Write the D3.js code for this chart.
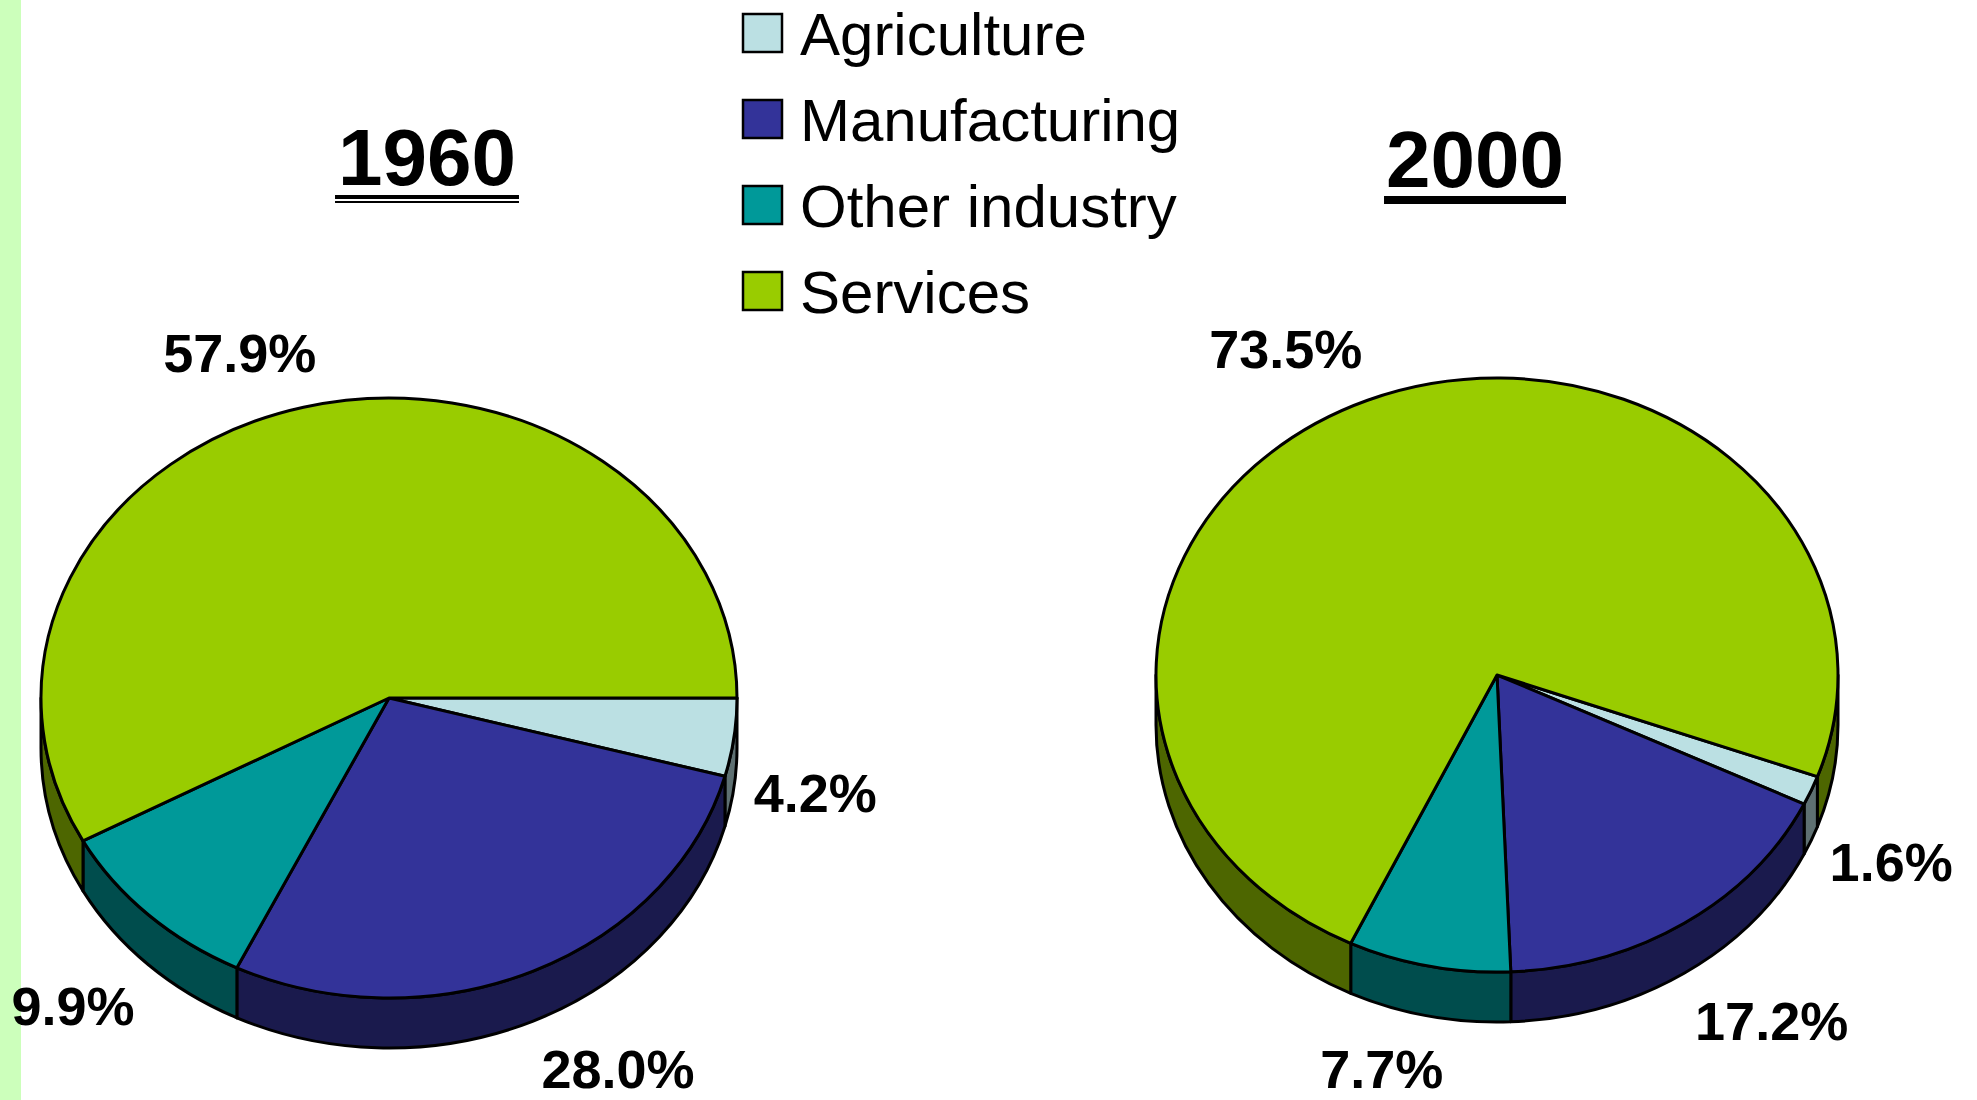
<!DOCTYPE html>
<html>
<head>
<meta charset="utf-8">
<script src="https://cdn.jsdelivr.net/npm/d3@7.9.0/dist/d3.min.js"></script>
<style>
  html, body { margin: 0; padding: 0; background: #fff; }
  svg { display: block; font-family: 'Liberation Sans', Arial, sans-serif; }
</style>
</head>
<body>
<svg id="chart" width="1977" height="1100"></svg>
<script>
// ---- data ----
const categories = ['Agriculture', 'Manufacturing', 'Other industry', 'Services'];
const years = ['1960', '2000'];
const shares1960 = [4.2, 28.0, 9.9, 57.9];
const shares2000 = [1.6, 17.2, 7.7, 73.5];
const firstSliceAngle = [0, 20]; // degrees, clockwise from 3 o'clock

const topColors = ['#BBE0E3', '#333399', '#009999', '#99CC00'];
const sideColors = ['#5E7072', '#1A1A4D', '#004D4D', '#4D6600'];

// ---- layout ----
const W = 1977, H = 1100;
const pies = [
  { year: years[0], values: shares1960, start: firstSliceAngle[0], cx: 389, cy: 698, rx: 348, ry: 300, depth: 50, tx: 427, ty: 185, dbl: true },
  { year: years[1], values: shares2000, start: firstSliceAngle[1], cx: 1497, cy: 675, rx: 341, ry: 297, depth: 50, tx: 1475, ty: 187, dbl: false },
];

const svg = d3.select('#chart');
const topColor = d3.scaleOrdinal(categories, topColors);
const sideColor = d3.scaleOrdinal(categories, sideColors);

// left green strip
svg.append('rect').attr('x', 0).attr('y', 0).attr('width', 21).attr('height', H).attr('fill', '#CCFFBB');

const STROKE = 3;
const LABEL_SIZE = 54;

pies.forEach((p) => {
  const s0 = (p.start * Math.PI) / 180;
  // d3.pie angles: 0 at 12 o'clock; our theta: 0 at 3 o'clock
  const pie = d3.pie().sort(null).value((d) => d.v)
    .startAngle(s0 + Math.PI / 2).endAngle(s0 + Math.PI / 2 + 2 * Math.PI);
  const arcs = pie(categories.map((c, i) => ({ c, v: p.values[i] })));
  arcs.forEach((a) => {
    a.t0 = a.startAngle - Math.PI / 2;
    a.t1 = a.endAngle - Math.PI / 2;
  });

  const pt = (t, dy = 0) => [p.cx + p.rx * Math.cos(t), p.cy + dy + p.ry * Math.sin(t)];

  const g = svg.append('g');

  // side walls (only front half visible: theta in [0, pi] mod 2pi)
  const walls = [];
  arcs.forEach((a) => {
    [[0, Math.PI], [2 * Math.PI, 3 * Math.PI]].forEach(([lo, hi]) => {
      const u0 = Math.max(a.t0, lo), u1 = Math.min(a.t1, hi);
      if (u1 - u0 > 1e-6) walls.push({ c: a.data.c, u0, u1 });
    });
  });

  g.selectAll('path.wall').data(walls).join('path')
    .attr('class', 'wall')
    .attr('d', (w) => {
      const a0 = pt(w.u0), a1 = pt(w.u1);
      const b1 = pt(w.u1, p.depth), b0 = pt(w.u0, p.depth);
      return `M${a0}A${p.rx},${p.ry} 0 0 1 ${a1}L${b1}A${p.rx},${p.ry} 0 0 0 ${b0}Z`;
    })
    .attr('fill', (w) => sideColor(w.c))
    .attr('stroke', '#000')
    .attr('stroke-width', STROKE)
    .attr('stroke-linejoin', 'round');

  // top faces
  g.selectAll('path.top').data(arcs).join('path')
    .attr('class', 'top')
    .attr('d', (a) => {
      const p0 = pt(a.t0), p1 = pt(a.t1);
      const large = a.t1 - a.t0 > Math.PI ? 1 : 0;
      return `M${p.cx},${p.cy}L${p0}A${p.rx},${p.ry} 0 ${large} 1 ${p1}Z`;
    })
    .attr('fill', (a) => topColor(a.data.c))
    .attr('stroke', '#000')
    .attr('stroke-width', STROKE)
    .attr('stroke-linejoin', 'round');

  // percentage labels, outside the slice at its mid angle
  const fmt = d3.format('.1f');
  g.selectAll('text.lbl').data(arcs).join('text')
    .attr('class', 'lbl')
    .attr('font-size', LABEL_SIZE)
    .attr('font-weight', 'bold')
    .attr('text-anchor', 'middle')
    .text((a) => fmt(a.data.v) + '%')
    .each(function (a) {
      const hw = this.getComputedTextLength() / 2;
      const m = (a.t0 + a.t1) / 2;
      const c = Math.cos(m), s = Math.sin(m);
      const k = Math.min(1, 0.4 + 1.5 * Math.abs(c));
      const x = p.cx + (p.rx + 20) * c + Math.sign(c) * hw * k;
      let y = p.cy + p.depth / 2 + (p.ry + 60) * s + Math.sign(s) * 22 + 20;
      y = Math.min(y, H - LABEL_SIZE * 0.22);
      d3.select(this).attr('x', x).attr('y', y);
    });

  // title with underline
  const t = svg.append('text')
    .attr('x', p.tx).attr('y', p.ty)
    .attr('text-anchor', 'middle')
    .attr('font-size', 80)
    .attr('font-weight', 'bold')
    .text(p.year);
  const tw = t.node().getComputedTextLength();
  if (p.dbl) {
    svg.append('rect').attr('x', p.tx - tw / 2 - 3).attr('y', p.ty + 10).attr('width', tw + 6).attr('height', 4).attr('fill', '#000');
    svg.append('rect').attr('x', p.tx - tw / 2 - 3).attr('y', p.ty + 16).attr('width', tw + 6).attr('height', 2).attr('fill', '#000');
  } else {
    svg.append('rect').attr('x', p.tx - tw / 2 - 2).attr('y', p.ty + 9).attr('width', tw + 4).attr('height', 8).attr('fill', '#000');
  }
});

// legend
const legend = svg.append('g').attr('transform', 'translate(743,14)');
const rowY = d3.scalePoint().domain(categories).range([0, 258]);
const rows = legend.selectAll('g').data(categories).join('g')
  .attr('transform', (c) => `translate(0,${rowY(c)})`);
rows.append('rect')
  .attr('width', 39).attr('height', 38)
  .attr('fill', (c) => topColor(c))
  .attr('stroke', '#000').attr('stroke-width', 2.5);
rows.append('text')
  .attr('x', 57).attr('y', 41)
  .attr('font-size', 60)
  .text((c) => c);
</script>
</body>
</html>
